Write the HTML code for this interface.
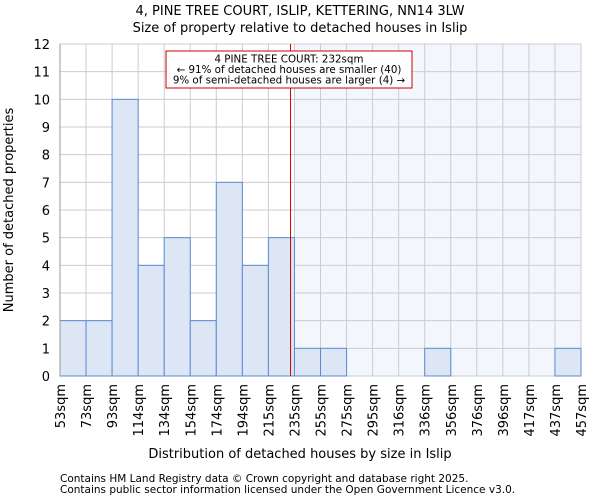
<!DOCTYPE html>
<html><head><meta charset="utf-8"><style>
body{margin:0;background:#fff;font-family:"DejaVu Sans","Liberation Sans",sans-serif}
svg text{font-family:"DejaVu Sans","Liberation Sans",sans-serif;fill:#000}
</style></head><body>
<svg id="c" width="600" height="500" xmlns="http://www.w3.org/2000/svg">
<text x="300" y="15" text-anchor="middle" font-size="13">4, PINE TREE COURT, ISLIP, KETTERING, NN14 3LW</text>
<text x="300" y="32" text-anchor="middle" font-size="13">Size of property relative to detached houses in Islip</text>
<g id="plot"></g>
<text x="300" y="458" text-anchor="middle" font-size="13">Distribution of detached houses by size in Islip</text>
<text transform="translate(13,210) rotate(-90)" text-anchor="middle" font-size="13">Number of detached properties</text>
<text x="60" y="482" font-size="10.5" fill="#333">Contains HM Land Registry data © Crown copyright and database right 2025.</text>
<text x="60" y="493" font-size="10.5" fill="#333">Contains public sector information licensed under the Open Government Licence v3.0.</text>
</svg>
<script>
const binLabels=["53sqm","73sqm","93sqm","114sqm","134sqm","154sqm","174sqm","194sqm","215sqm","235sqm","255sqm","275sqm","295sqm","316sqm","336sqm","356sqm","376sqm","396sqm","417sqm","437sqm","457sqm"];
const counts=[2,2,10,4,5,2,7,4,5,1,1,0,0,0,1,0,0,0,0,1];
const yTicks=[0,1,2,3,4,5,6,7,8,9,10,11,12];
const propertySize=232;
const binEdges=[53,73,93,114,134,154,174,194,215,235,255,275,295,316,336,356,376,396,417,437,457];
const X0=60,X1=581,Y0=376,Y1=44,YMAX=12;
const NS="http://www.w3.org/2000/svg";
const g=document.getElementById('plot');
const bw=(X1-X0)/counts.length;
const xb=i=>X0+i*bw;
const y=v=>Y0-(v/YMAX)*(Y0-Y1);
function xs(v){for(let i=0;i<binEdges.length-1;i++){if(v<=binEdges[i+1])return xb(i)+(v-binEdges[i])/(binEdges[i+1]-binEdges[i])*bw;}return X1;}
function mk(t,a){const e=document.createElementNS(NS,t);for(const k in a)e.setAttribute(k,a[k]);g.appendChild(e);return e;}
let si=binEdges.findIndex(e=>e>=propertySize);
let sh=mk('rect',{x:xb(si),y:Y1,width:X1-xb(si),height:Y0-Y1,fill:'#f3f6fd'});


for(const t of yTicks){let l=mk('line',{x1:X0,x2:X1,y1:y(t),y2:y(t),stroke:'#cccccc','stroke-width':1});


let tx=mk('text',{x:X0-10,y:y(t)+5,'text-anchor':'end','font-size':'13'});tx.textContent=t;

}
for(let i=0;i<=counts.length;i++){let l=mk('line',{x1:xb(i),x2:xb(i),y1:Y1,y2:Y0,stroke:'#cccccc','stroke-width':1});

}
counts.forEach((c,i)=>{if(c<=0)return;let r=mk('rect',{x:xb(i),y:y(c),width:bw,height:Y0-y(c),fill:'#dce6f5',stroke:'#5a8bd0','stroke-width':1});

});
binLabels.forEach((s,i)=>{let t=mk('text',{transform:`translate(${xb(i)+5},${Y0+8}) rotate(-90)`,'text-anchor':'end','font-size':'13'});t.textContent=s;

});
let ax=mk('line',{x1:X0,x2:X0,y1:Y1,y2:Y0,stroke:'#999'});
let px=xs(propertySize);
let rl=mk('line',{x1:px,x2:px,y1:Y1,y2:Y0,stroke:'#cc0000','stroke-width':1});


let box=mk('rect',{x:166,y:51,width:246,height:37,fill:'#fff',stroke:'#cc0000','stroke-width':1});


["4 PINE TREE COURT: 232sqm","← 91% of detached houses are smaller (40)","9% of semi-detached houses are larger (4) →"].forEach((s,i)=>{let t=mk('text',{x:289,y:62.5+i*10.5,'text-anchor':'middle','font-size':'10.3'});t.textContent=s;

});
</script>
</body></html>
